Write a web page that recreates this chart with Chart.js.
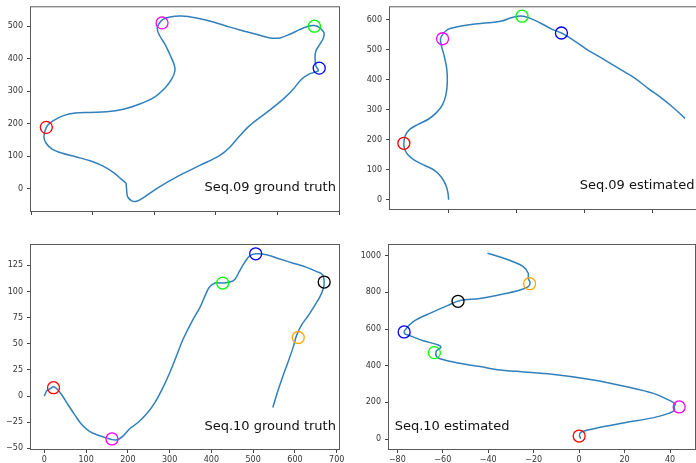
<!DOCTYPE html>
<html>
<head>
<meta charset="utf-8">
<script src="https://cdn.jsdelivr.net/npm/chart.js@4.4.1/dist/chart.umd.min.js"></script>
<style>
body{margin:0;background:#fff;width:696px;height:463px;position:relative;overflow:hidden}
.q{position:absolute;overflow:hidden}
.q canvas{position:absolute;left:0;top:0}
</style>
</head>
<body>
<div class="q" style="left:0;top:0;width:348px;height:232px"><canvas id="c1" width="380" height="232"></canvas></div>
<div class="q" style="left:348px;top:0;width:348px;height:232px"><canvas id="c2" width="380" height="232"></canvas></div>
<div class="q" style="left:0;top:232px;width:348px;height:231px"><canvas id="c3" width="380" height="260"></canvas></div>
<div class="q" style="left:348px;top:232px;width:348px;height:231px"><canvas id="c4" width="380" height="260"></canvas></div>
<script>
// Seq.09 ground truth
const gt09X = [-2,0,3,17,33,56,100,167,244,311,344,378,411,467,522,556,583,611,639,631,628,631,644,656,658,644,626,606,578,544,511,478,444,400,344,289,233,183,144,120,106,102,111,128,144,158,161,150,128,94,44,-11,-67,-122,-172,-211,-244,-264,-272,-276,-269,-250,-217,-167,-117,-72,-39,-17,-2];
const gt09Y = [18,-4,-24,-37,-38,-27,1,37,72,103,128,164,195,235,276,307,337,354,363,378,403,424,444,464,480,495,502,500,490,475,464,464,472,483,497,513,525,531,528,520,505,490,469,444,413,383,363,337,310,283,261,245,237,235,233,225,210,195,179,159,141,123,110,98,85,67,47,29,18];
const gt09MarkX = [-268, 118, 626, 642];
const gt09MarkY = [189, 510, 500, 371];

// Seq.09 estimated
const est09X = [0,-1,-4,-11,-21,-35,-50,-60,-65,-66,-64,-57,-45,-30,-18,-9,-4,-2,-3,-7,-11,-12,-8,-1,11,33,58,78,92,102,112,122,137,151,166,176,191,205,230,254,274,294,313,330,348];
const est09Y = [0,21,48,76,98,114,131,150,169,188,213,235,251,268,290,317,350,394,438,482,515,536,553,567,575,583,589,595,606,611,610,602,586,569,555,542,520,498,465,432,405,370,339,308,271];
const est09MarkX = [-66, -9, 108, 166];
const est09MarkY = [188, 536, 611, 555];
const marks09Colors = ['#ff0000', '#ff00ff', '#00ff00', '#0000ff'];

// Seq.10 ground truth
const gt10X = [0,6,14,22,30,42,58,73,89,109,133,157,173,189,205,225,245,265,285,301,317,333,353,373,385,395,409,427,445,457,468,480,492,507,532,564,596,628,652,666,670,668,660,648,632,616,604,596,584,572,560,547];
const gt10Y = [0,5,7,9,7,1,-9,-18,-27,-34,-38,-41,-42,-38,-31,-25,-17,-6,9,23,39,55,71,85,96,104,108,108,109,112,120,128,134,136,135,131,127,123,119,116,109,103,95,87,77,68,58,47,33,20,6,-11];
const gt10MarkX = [22, 162, 427, 506, 670, 608];
const gt10MarkY = [8, -41, 108, 136, 109, 56];

// Seq.10 estimated
const est10X = [0.7,0.1,1.1,9.8,20.0,33.3,39.4,41.9,41.8,42.3,40.0,32.7,20.9,6.3,-13.7,-34.8,-43.6,-53.9,-60.5,-62.7,-63.0,-62.0,-60.8,-62.0,-68.6,-75.2,-76.8,-76.8,-73.0,-65.0,-57.7,-52.4,-43.6,-33.4,-26.0,-22.4,-21.6,-22.4,-22.4,-24.6,-29.0,-32.8,-37.2,-40.4];
const est10Y = [2,22,40,65,89,118,140,155,176,191,209,249,285,322,356,376,395,416,435,449,476,489,500,513,536,567,575,591,640,689,729,755,767,791,813,831,853,876,904,940,967,985,1002,1014];
const est10MarkX = [0, 44, -63.7, -77, -53.3, -21.8];
const est10MarkY = [16, 175, 471, 584, 751, 847];
const marks10Colors = ['#ff0000', '#ff00ff', '#00ff00', '#0000ff', '#000000', '#ffa500'];

Chart.defaults.font.family = "'DejaVu Sans', sans-serif";
Chart.defaults.font.size = 8;
Chart.defaults.color = '#333';

const pts = (xs, ys) => xs.map((x, i) => ({x: x, y: ys[i]}));
const fmt = v => v < 0 ? '\u2212' + Math.abs(v) : String(v);

const framePlugin = {
    id: 'frame',
    afterDatasetsDraw(chart) {
        const {ctx, chartArea: a} = chart;
        ctx.save();
        ctx.strokeStyle = '#5a5a5a';
        ctx.lineWidth = 1;
        ctx.strokeRect(a.left - 0.5, a.top - 0.5, a.right - a.left + 1, a.bottom - a.top + 1);
        ctx.restore();
    }
};

const labelPlugin = {
    id: 'panelLabel',
    afterDraw(chart, args, opts) {
        const {ctx, chartArea: a} = chart;
        ctx.save();
        ctx.font = "13px 'DejaVu Sans', sans-serif";
        ctx.fillStyle = '#111';
        ctx.textAlign = opts.align;
        ctx.textBaseline = 'middle';
        ctx.fillText(opts.text, a.left + opts.ax * (a.right - a.left), a.top + opts.ay * (a.bottom - a.top));
        ctx.restore();
    }
};

function makePanel(id, p) {
    const axisFit = (size, isX) => s => {
        if (isX) s.height = size; else s.width = size;
        s.paddingTop = 0; s.paddingBottom = 0; s.paddingLeft = 0; s.paddingRight = 0;
    };
    new Chart(document.getElementById(id), {
        type: 'scatter',
        data: {
            datasets: [
                {
                    data: pts(p.markX, p.markY),
                    showLine: false,
                    pointRadius: 6,
                    pointBorderWidth: 1.3,
                    pointBorderColor: p.markColors,
                    pointBackgroundColor: 'rgba(0,0,0,0)'
                },
                {
                    data: pts(p.x, p.y),
                    showLine: true,
                    borderColor: '#3180bc',
                    borderWidth: 1.5,
                    pointRadius: 0,
                    tension: 0.35
                }
            ]
        },
        plugins: [framePlugin, labelPlugin],
        options: {
            responsive: false,
            animation: false,
            devicePixelRatio: 1,
            layout: {padding: {top: p.padTop, right: p.padRight, left: 0, bottom: 0}},
            plugins: {
                legend: {display: false},
                tooltip: {enabled: false},
                panelLabel: p.label
            },
            scales: {
                x: {
                    type: 'linear',
                    min: p.xMin, max: p.xMax,
                    afterFit: axisFit(p.xH, true),
                    border: {display: false},
                    grid: {drawOnChartArea: false, tickLength: 4, color: '#444'},
                    ticks: {
                        stepSize: p.xStep, includeBounds: false, autoSkip: false, maxRotation: 0,
                        padding: 2,
                        callback: p.xLabels ? fmt : () => ''
                    }
                },
                y: {
                    type: 'linear',
                    min: p.yMin, max: p.yMax,
                    afterFit: axisFit(p.yW, false),
                    border: {display: false},
                    grid: {drawOnChartArea: false, tickLength: 4, color: '#444'},
                    ticks: {stepSize: p.yStep, includeBounds: false, padding: 4, callback: fmt}
                }
            }
        }
    });
}

makePanel('c1', {
    x: gt09X, y: gt09Y, markX: gt09MarkX, markY: gt09MarkY, markColors: marks09Colors,
    xMin: -319, xMax: 708, xStep: 200, yMin: -68, yMax: 558, yStep: 100,
    xLabels: false, yW: 31, xH: 21, padTop: 6, padRight: 41,
    label: {text: 'Seq.09 ground truth', ax: 0.99, ay: 0.886, align: 'right'}
});
makePanel('c2', {
    x: est09X, y: est09Y, markX: est09MarkX, markY: est09MarkY, markColors: marks09Colors,
    xMin: -86.4, xMax: 370, xStep: 100, yMin: -30.7, yMax: 640.6, yStep: 100,
    xLabels: false, yW: 42, xH: 23, padTop: 5, padRight: 28,
    label: {text: 'Seq.09 estimated', ax: 0.982, ay: 0.886, align: 'right'}
});
makePanel('c3', {
    x: gt10X, y: gt10Y, markX: gt10MarkX, markY: gt10MarkY, markColors: marks10Colors,
    xMin: -31.9, xMax: 705.5, xStep: 100, yMin: -50.6, yMax: 144.4, yStep: 25,
    xLabels: true, yW: 31, xH: 43, padTop: 13, padRight: 41,
    label: {text: 'Seq.10 ground truth', ax: 0.99, ay: 0.889, align: 'right'}
});
makePanel('c4', {
    x: est10X, y: est10Y, markX: est10MarkX, markY: est10MarkY, markColors: marks10Colors,
    xMin: -83.67, xMax: 50.97, xStep: 20, yMin: -54.5, yMax: 1058.2, yStep: 200,
    xLabels: true, yW: 41, xH: 43, padTop: 13, padRight: 33,
    label: {text: 'Seq.10 estimated', ax: 0.0186, ay: 0.889, align: 'left'}
});
</script>
</body>
</html>
